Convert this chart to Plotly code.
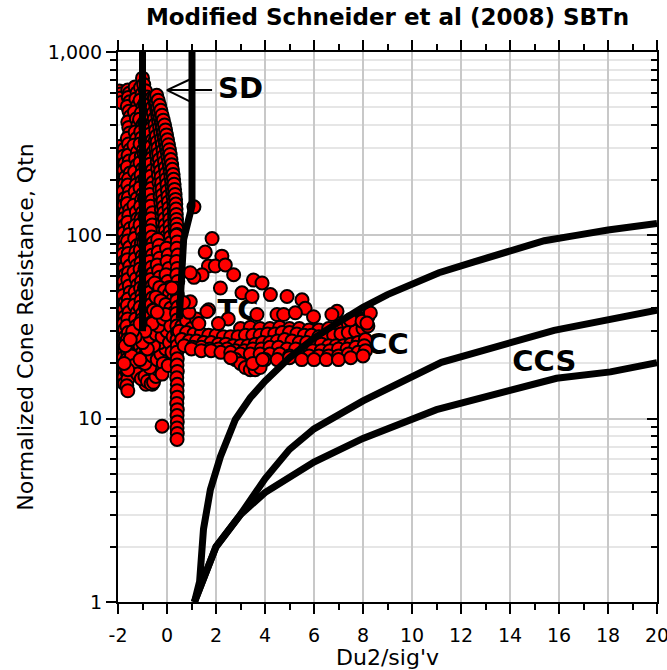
import plotly.graph_objects as go

# ---------------- data ----------------
# left-edge column
c1_x = [-1.94,-1.88,-1.92,-1.86,-1.95,-1.9,-1.86,-1.92,-1.88,-1.94,-1.86,-1.9,-1.93,-1.87,-1.91,-1.85,-1.9,-1.94,-1.88,-1.92,
        -1.86,-1.9,-1.94,-1.88,-1.92,-1.86,-1.9,-1.93,-1.87]
c1_q = [612,590,560,530,305,275,248,224,202,182,164,148,134,121,109,98,88,79,71,64,
        57.5,52,47,42.5,38.5,35,31.5,28.5,26]
# column near -1.75
c9_x = [-1.75,-1.77,-1.72,-1.76,-1.7,-1.74,-1.78,-1.72,-1.75,-1.7,-1.77,-1.73,-1.76,-1.71,-1.75,-1.78,-1.72,-1.74,-1.7,-1.76,
        -1.73,-1.78,-1.71,-1.75,-1.72,-1.77,-1.74,-1.7,-1.76,-1.73,-1.78,-1.75,-1.72,-1.76,-1.74]
c9_q = [295,270,247,226,207,190,174,159,146,134,123,113,103,94,86,79,72.5,66.5,61,56,
        51,47,43,39.5,36,33,30.5,28,25.5,23.5,21.5,19.8,18.2,16.8,15.5]
# column near -1.6
c2_x = [-1.6,-1.54,-1.58,-1.52,-1.62,-1.55,-1.5,-1.6,-1.56,-1.52,-1.62,-1.57,-1.51,-1.59,-1.54,-1.62,-1.5,-1.57,-1.6,-1.53,
        -1.58,-1.62,-1.52,-1.56,-1.6,-1.5,-1.55,-1.61,-1.53,-1.58,-1.62,-1.52,-1.57,-1.6,-1.54,-1.5,-1.58,-1.62,-1.55,-1.6,
        -1.64,-1.58,-1.62,-1.66,-1.6,-1.64,-1.58,-1.62,-1.6,-1.64,-1.6]
c2_q = [620,595,565,535,505,475,445,415,388,362,338,315,293,273,254,236,219,203,188,174,
        161,149,138,128,118,109,101,93,86,79.5,73.5,68,62.5,57.5,53,49,45,41.5,38,35,
        32,29.5,27,24.8,22.8,21,19.3,17.8,16.4,15.1,14.2]
# column near -1.27
c3_x = [-1.3,-1.22,-1.27,-1.2,-1.33,-1.25,-1.19,-1.3,-1.24,-1.35,-1.21,-1.28,-1.23,-1.32,-1.2,-1.26,-1.3,-1.22,-1.35,-1.25,
        -1.2,-1.29,-1.24,-1.32,-1.21,-1.27,-1.3,-1.23,-1.35,-1.26,-1.2,-1.3,-1.24,-1.33,-1.22,-1.28,-1.25,-1.31,-1.2,-1.27,
        -1.23,-1.3,-1.25,-1.2]
c3_q = [645,600,555,510,470,432,398,366,337,310,285,262,241,222,204,188,173,159,146,134,
        123,113,104,96,88,81,74.5,68.5,63,58,53.5,49,45,41.5,38,35,32,29.5,27,24.8,
        22.8,21,19.3,17.8]
# column just left of the left SD boundary
c8_x = [-1.08,-1.02,-1.1,-0.98,-1.05,-1.12,-1.0,-1.07,-1.03,-1.1,-0.97,-1.05,-1.1,-1.0,-1.06,-1.02,-1.1,-0.98,-1.04,-1.08,
        -1.0,-1.06,-1.1,-1.02,-0.98,-1.05,-1.09,-1.01,-1.06,-1.1,-0.99,-1.04,-1.08,-1.02,-1.06,-1.1,-1.0,-1.04,-1.08,-1.02,
        -1.06,-1.1,-1.0,-1.05,-1.08,-1.02]
c8_q = [640,590,545,503,465,430,398,368,340,315,291,269,249,230,213,197,182,168,156,144,
        133,123,114,105,97,90,83,77,71,65.5,60.5,56,51.5,47.5,44,40.5,37.5,34.5,32,29.5,
        27.2,25,23,21.3,19.6,18.1]
# column along the left SD boundary
c4_x = [-1.0,-0.95,-0.88,-0.82,-0.9,-0.85,-0.8,-0.92,-0.86,-0.81,-0.89,-0.84,-0.93,-0.8,-0.87,-0.83,-0.9,-0.85,-0.8,-0.92,
        -0.86,-0.82,-0.9,-0.84,-0.8,-0.88,-0.94,-0.83,-0.87,-0.81,-0.9,-0.85,-0.8,-0.92,-0.86,-0.82,-0.89,-0.84,-0.8,-0.91,
        -0.86,-0.82,-0.88,-0.84,-0.8,-0.9,-0.85,-0.8,-0.86]
c4_q = [720,665,615,568,525,485,448,414,382,353,326,301,278,257,237,219,202,187,172,159,
        147,136,125,116,107,98.5,91,84,77.5,71.5,66,61,56,52,48,44,40.5,37.5,34.5,32,
        29.5,27,25,23,21.2,19.6,18,16.6,15.4]
# column near -0.63
c5_x = [-0.62,-0.68,-0.6,-0.66,-0.58,-0.64,-0.7,-0.6,-0.65,-0.57,-0.63,-0.69,-0.6,-0.66,-0.58,-0.64,-0.7,-0.61,-0.67,-0.59,
        -0.65,-0.6,-0.68,-0.62,-0.57,-0.66,-0.6,-0.7,-0.63,-0.58,-0.66,-0.61,-0.69,-0.6,-0.64,-0.58,-0.67,-0.62,-0.6,-0.68,
        -0.63,-0.58,-0.66,-0.6,-0.64,-0.57,-0.62,-0.6]
c5_q = [560,520,482,447,414,384,356,330,306,284,263,244,226,210,194,180,167,155,144,133,
        123,114,106,98,91,84,78,72,67,62,57.5,53,49,45.5,42,39,36,33.5,31,28.5,
        26.5,24.5,22.5,21,19.4,18,16.6,15.4]
# diagonal band right of the left boundary (several strands)
e3_x = [-0.48,-0.46,-0.43,-0.4,-0.38,-0.35,-0.33,-0.3,-0.28,-0.25,-0.23,-0.2,-0.18,-0.16,-0.14,-0.12,-0.1,-0.08,-0.06,-0.04,
        -0.02]
e3_q = [330,300,275,252,231,212,194,178,163,150,138,127,117,107,98,90,83,76,70,64,59]
e5_x = [-0.6,-0.56,-0.52,-0.49,-0.46,-0.43,-0.4,-0.37,-0.34,-0.31,-0.28,-0.26,-0.24,-0.22,-0.2,-0.18,-0.16,-0.14,-0.12,-0.1,
        -0.08,-0.06,-0.05,-0.04,-0.03,-0.02,-0.01,0.0,0.01]
e5_q = [500,465,432,402,374,348,323,300,279,259,241,224,208,193,179,166,154,143,133,123,
        114,106,98,91,84,78,72,67,62]
e2_x = [-0.52,-0.47,-0.42,-0.38,-0.34,-0.3,-0.26,-0.22,-0.19,-0.16,-0.13,-0.1,-0.07,-0.04,-0.02,0.0,0.02,0.04,0.06,0.08,
        0.1,0.11,0.12,0.13,0.14,0.15]
e2_q = [560,520,484,450,418,389,362,337,313,291,271,252,234,218,203,189,175,163,152,141,
        131,122,113,105,98,91]
e4_x = [-0.5,-0.44,-0.38,-0.33,-0.28,-0.23,-0.19,-0.15,-0.11,-0.07,-0.03,0.01,0.04,0.07,0.1,0.13,0.16,0.19,0.21,0.23,
        0.25,0.27,0.29,0.3,0.31,0.32,0.33,0.34]
e4_q = [565,528,496,466,438,412,388,364,342,322,302,284,267,251,236,222,208,196,184,172,
        162,152,143,134,126,118,111,104]
e1_x = [-0.42,-0.36,-0.3,-0.25,-0.2,-0.15,-0.1,-0.06,-0.02,0.02,0.06,0.1,0.13,0.16,0.19,0.22,0.25,0.27,0.29,0.31,
        0.33,0.35,0.36,0.37,0.38,0.39,0.4,0.4,0.41]
e1_q = [580,545,512,481,452,425,400,376,353,332,312,293,276,259,243,229,215,202,190,178,
        167,157,148,139,130,122,115,108,101]
# fill columns under the band
c6_x = [-0.38,-0.32,-0.36,-0.3,-0.4,-0.34,-0.3,-0.37,-0.33,-0.4,-0.35,-0.3,-0.38,-0.33,-0.36,-0.3,-0.4,-0.34,-0.37]
c6_q = [95,88,81,75,69,64,59,54.5,50,46,42.5,39,36,33,30.5,28,26,24,22]
c7_x = [-0.02,0.05,0.0,0.08,-0.04,0.03,0.1,0.0,0.06,-0.03,0.04,0.09,-0.01,0.05,0.0,0.08,0.02,-0.02]
c7_q = [85,78,72,66,61,56,52,48,44,40.5,37.5,34.5,32,29.5,27,25,23,21]
h_x = [-0.5,-0.3,-0.1,0.1,0.25,-0.45,-0.25,-0.05,0.15,0.3,-0.55,-0.35,-0.15,0.05,0.2,-0.4,-0.2,0.0,0.18,-0.5,
       -0.3,-0.1,0.12,0.28]
h_q = [55,52,50,48,45,46,44,42,40,38,39,37,35.5,34,32,33,31,30,28.5,28,
       27,26,25,24]
# column near 0.4 reaching the lowest values
cF_x = [0.38,0.42,0.4,0.44,0.39,0.42,0.4,0.44,0.38,0.42,0.4,0.44,0.39,0.42,0.4,0.43,0.41,0.42,0.4,0.42,
        0.41,0.42,0.4,0.42,0.41,0.42,0.4,0.42,0.41,0.42,0.41,0.42,0.41]
cF_q = [100,92,85,78,72,66,61,56,51.5,47.5,44,40.5,37.5,34.5,32,29.5,27,25,23,21.2,
        19.6,18.1,16.7,15.4,14.2,13.1,12.1,11.2,10.4,9.6,8.9,8.3,7.7]
# low dense cluster
g_x = [-1.45,-1.35,-1.2,-1.05,-0.9,-0.8,-0.65,-0.55,-0.45,-0.35,-0.5,-0.7,-0.9,-1.1,-0.6,-0.4,-0.25,-0.15,-0.05,-0.3,
       -0.55,-0.8,-1.0,-0.7,-0.45,-0.2,0.0,-0.35,-0.6,-0.9,-0.15,0.1,0.2,0.15,-0.05,-0.4,0.25,-1.3,-1.4,-1.1,
       -1.6,-1.75,-1.7,-1.5,-0.2,0.05,-0.2]
g_q = [22,19.5,17.5,16.5,17,16,15.5,15.8,17,18.5,19.5,19,20,21,22,21,22.5,20,24,26,
       25,24,26,28,29,28,30,32,33,30,35,26,23,32,37,38,28,28,30,33,
       18.5,20,25,27,17.5,19.5,9.1]
# horizontal band rows
r1_x = [3.0,3.4,3.8,4.2,4.6,5.0,5.4,5.8,6.2,6.6,7.0,7.4,7.7,8.0,8.2,0.6,0.8,1.0,0.7,1.2,0.9]
r1_q = [31,31.5,31,31,31.5,31,31,30.5,30.5,31,32,33,34,35,36,32,34,31,29,35,38]
r2_x = [0.5,0.8,1.1,1.4,1.7,2.0,2.3,2.6,2.9,3.2,3.5,3.8,4.1,4.4,4.7,5.0,5.3,5.6,5.9,6.2,6.5,6.8,7.1,7.4,7.7,8.0,8.2]
r2_q = [30,29.5,29,29,28.5,28.5,28,28,28,28.5,28.5,28.5,29,29,29.5,29.5,29,28.5,28.5,28,28,28.5,29,29.5,30,31,32]
r3_x = [0.6,0.9,1.2,1.5,1.8,2.1,2.4,2.7,3.0,3.3,3.6,3.9,4.2,4.5,4.8,5.1,5.4,5.7,6.0,6.3,6.6,6.9,7.2,7.5,7.8,8.1]
r3_q = [27,26.5,26.5,26,26,25.5,25.5,25,25,25,25.5,26,26,26.5,27,26.5,26,26,25.5,25.5,25,25,25,25.5,26,27]
r4_x = [0.7,1.05,1.4,1.75,2.1,2.45,2.8,3.15,3.5,3.85,4.2,4.55,4.9,5.25,5.6,5.95,6.3,6.65,7.0,7.35,7.7,8.05]
r4_q = [25,24.5,24.5,24,24,24,23.5,23.5,24,24,24.5,24.5,24,24,23.5,23.5,23.5,23.5,24,24,24.5,25]
r5_x = [1.0,1.4,1.8,2.2,2.6,3.0,3.4,3.8,4.2,4.6,5.0,5.4,5.8,6.2,6.6,7.0,7.4,7.8,8.1]
r5_q = [24,23.5,23.5,23,23,22.5,22.5,22.5,22.5,22.5,22,22,22,22,22,22,22.5,23,23.5]
r6_x = [4.0,4.5,5.0,5.5,6.0,6.5,7.0,7.5,8.0,2.8,3.0,3.2,3.4,3.6,3.8,2.6,3.5,3.9]
r6_q = [21,21,21.5,21,21,21,21,21.5,22,21,20,19,18.5,18.5,19,21.5,20,21]
# scattered points above the band
s_x = [1.84,1.56,2.24,1.69,1.97,2.38,2.72,2.18,1.43,1.1,3.53,3.88,4.22,3.06,3.47,4.9,5.51,5.64,5.98,4.49,
       4.76,5.24,6.94,6.73,7.48,7.96,8.3,8.16,3.67,1.7,0.95,1.3,1.63,2.5,2.1,1.1,0.2,0.95,0.67]
s_q = [96,81,77,68,68,69,61,51.6,61,59,57,55,47.5,48.6,46.4,46.4,44.5,40,36,37,
       37,37.8,38.5,37,34.6,34,37.7,33.2,37,39.3,43.4,33,38.4,35,33,143,51.6,62.5,43]

# zone boundaries
b1_x = [1.12,1.33,1.49,1.77,2.18,2.79,3.4,4.0,5.0,6.0,7.0,8.0,9.0,10.0,11.1,12.5,14.0,15.4,16.7,18.0,20.0]
b1_q = [1.0,1.29,2.5,4.1,6.2,9.9,13,16,21.5,27.5,33.5,40.5,47.5,54,62.5,71.5,83,93.5,100,107,116]
b2_x = [1.12,2.0,3.0,4.0,5.0,6.0,8.0,11.2,15.8,20.0]
b2_q = [1.0,2.0,3.0,4.7,6.8,8.8,12.5,20.3,30.3,39]
b3_x = [1.12,2.0,3.0,4.0,6.0,8.0,11.0,15.9,18.1,20.0]
b3_q = [1.0,2.0,3.0,3.95,5.8,7.8,11.2,16.6,18.0,20.2]
sdL_x = [-1.0,-1.0]
sdL_q = [1000,30]
sdR_x = [1.02,1.02,0.68,0.58,0.5]
sdR_q = [1000,145,95,60,35]

arrow_x = [1.84,0.0,None,0.95,0.0,0.95]
arrow_q = [620,620,None,710,620,536]

label_text = ["<b>SD</b>","<b>TC</b>","<b>CC</b>","<b>CCS</b>"]
label_x = [3.0,2.9,9.0,15.4]
label_q = [612,37.9,24.7,19.9]

x_ticks = [-2,0,2,4,6,8,10,12,14,16,18,20]
x_tick_text = ["-2","0","2","4","6","8","10","12","14","16","18","20"]
y_ticks = [1,10,100,1000]
y_tick_text = ["1","10","100","1,000"]
y_minor = [2,3,4,5,6,7,8,9,20,30,40,50,60,70,80,90,200,300,400,500,600,700,800,900]

# ---------------- figure ----------------
groups = [(c1_x,c1_q),(c9_x,c9_q),(c2_x,c2_q),(c3_x,c3_q),(c8_x,c8_q),(c4_x,c4_q),(c5_x,c5_q),
          (e3_x,e3_q),(e5_x,e5_q),(e2_x,e2_q),(e4_x,e4_q),(e1_x,e1_q),
          (c6_x,c6_q),(c7_x,c7_q),(h_x,h_q),(g_x,g_q),(cF_x,cF_q),(r1_x,r1_q),(r2_x,r2_q),(r3_x,r3_q),(r4_x,r4_q),
          (r5_x,r5_q),(r6_x,r6_q),(s_x,s_q)]
pts_x, pts_q = [], []
for gx, gq in groups:
    assert len(gx) == len(gq)
    pts_x += gx
    pts_q += gq

FONT = "Verdana, DejaVu Sans, sans-serif"
fig = go.Figure()
fig.add_trace(go.Scatter(x=label_x, y=label_q, text=label_text, mode="text",
                         textfont=dict(size=29, color="black", family=FONT), showlegend=False, hoverinfo="skip"))
fig.add_trace(go.Scatter(x=pts_x, y=pts_q, mode="markers",
                         marker=dict(size=13, color="#ff0000", line=dict(color="black", width=2)),
                         showlegend=False))
for bx, bq in [(b1_x, b1_q), (b2_x, b2_q), (b3_x, b3_q), (sdL_x, sdL_q), (sdR_x, sdR_q)]:
    fig.add_trace(go.Scatter(x=bx, y=bq, mode="lines", line=dict(color="black", width=7), showlegend=False))
fig.add_trace(go.Scatter(x=arrow_x, y=arrow_q, mode="lines", line=dict(color="black", width=2), showlegend=False))
fig.add_trace(go.Scatter(x=[None], y=[None], xaxis="x2", yaxis="y2", showlegend=False))

axis_common = dict(showline=True, linecolor="black", linewidth=2, tickcolor="black", tickwidth=2,
                   zeroline=False, tickfont=dict(size=19, color="black", family=FONT))
fig.update_layout(
    width=667, height=670, margin=dict(l=118, r=10, t=52, b=68, autoexpand=False),
    paper_bgcolor="white", plot_bgcolor="white", showlegend=False,
    title=dict(text="<b>Modified Schneider et al (2008) SBTn</b>", x=0.5, xref="paper", xanchor="center",
               y=1 - 17 / 670, yref="container", yanchor="middle",
               font=dict(size=23, color="black", family=FONT)),
    xaxis=dict(range=[-2, 20], tickmode="array", tickvals=x_ticks, ticktext=x_tick_text,
               ticks="outside", ticklen=10, showgrid=True, gridcolor="#c8c8c8", gridwidth=1.5,
               ticklabeloverflow="allow", ticklabelstandoff=5,
               minor=dict(dtick=1, tick0=0, ticks="outside", ticklen=6, tickwidth=2, tickcolor="black", showgrid=False),
               title=dict(text="Du2/sig'v", font=dict(size=22, color="black", family=FONT), standoff=0),
               **axis_common),
    yaxis=dict(type="log", range=[0, 3], tickmode="array", tickvals=y_ticks, ticktext=y_tick_text,
               ticks="outside", ticklen=10, showgrid=True, gridcolor="#c8c8c8", gridwidth=1.5,
               minor=dict(tickmode="array", tickvals=y_minor,
                          ticks="outside", ticklen=6, tickwidth=2, tickcolor="black",
                          showgrid=True, gridcolor="#e6e6e6", gridwidth=1.5),
               title=dict(text="Normalized Cone Resistance, Qtn", font=dict(size=22, color="black", family=FONT),
                          standoff=8),
               **axis_common),
    xaxis2=dict(overlaying="x", side="top", anchor="y", range=[-2, 20], tickmode="array", tickvals=x_ticks,
                ticks="outside", ticklen=10, showticklabels=False, showgrid=False,
                minor=dict(dtick=1, tick0=0, ticks="outside", ticklen=6, tickwidth=2, tickcolor="black"),
                **axis_common),
    yaxis2=dict(overlaying="y", side="right", anchor="x", type="log", range=[0, 3], tickmode="array",
                tickvals=y_ticks, ticks="inside", ticklen=10, showticklabels=False, showgrid=False,
                minor=dict(tickmode="array", tickvals=y_minor,
                           ticks="inside", ticklen=6, tickwidth=2, tickcolor="black"),
                **axis_common),
)
fig.write_html("out.html")
